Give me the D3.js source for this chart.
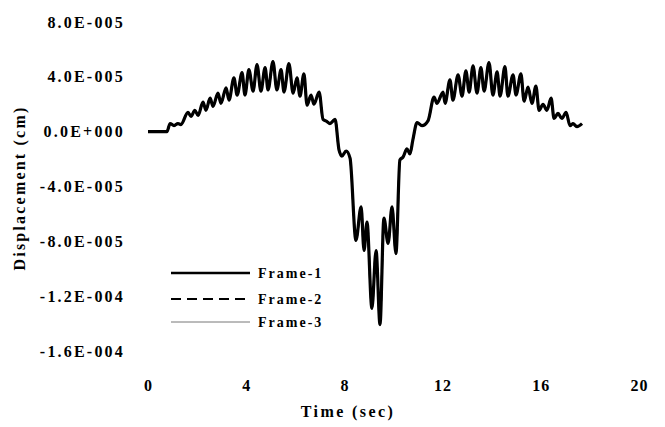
<!DOCTYPE html>
<html>
<head>
<meta charset="utf-8">
<script src="https://cdn.jsdelivr.net/npm/d3@7/dist/d3.min.js"></script>
<style>
  html, body { margin: 0; padding: 0; background: #fff; }
  svg { display: block; }
  text { font-family: "Liberation Serif", "DejaVu Serif", serif; font-weight: bold; fill: #000; }
</style>
</head>
<body>
<svg id="chart" width="665" height="427"></svg>
<script>
// ---- data ----
const timeSec = [0, 0.77, 0.90, 1.06, 1.22, 1.34, 1.63, 1.75, 1.91, 2.04, 2.24, 2.36, 2.53, 2.65, 2.85, 2.97,
  3.18, 3.30, 3.50, 3.63, 3.83, 3.95, 4.11, 4.28, 4.44, 4.60, 4.77, 4.89, 5.09, 5.25, 5.42, 5.54, 5.74, 5.91,
  6.07, 6.19, 6.35, 6.48, 6.64, 6.76, 6.97, 7.13, 7.29, 7.41, 7.62, 7.78, 7.90, 8.07, 8.23, 8.47, 8.68, 8.80,
  8.92, 9.12, 9.29, 9.45, 9.61, 9.78, 9.94, 10.10, 10.26, 10.39, 10.55, 10.67, 10.79, 10.96, 11.16, 11.41,
  11.65, 11.77, 12.02, 12.10, 12.30, 12.42, 12.63, 12.79, 12.95, 13.08, 13.24, 13.40, 13.56, 13.69, 13.89,
  14.05, 14.22, 14.34, 14.54, 14.66, 14.87, 14.99, 15.19, 15.32, 15.48, 15.64, 15.80, 15.93, 16.09, 16.25,
  16.42, 16.54, 16.70, 16.86, 17.03, 17.19, 17.31, 17.47, 17.68];

// displacement in units of 1e-5 cm
const frame1 = [0, 0, 0.59, 0.44, 0.59, 0.52, 1.41, 1.11, 1.56, 1.19, 2.15, 1.56, 2.44, 1.85, 2.81, 2.07,
  3.19, 2.30, 3.93, 2.67, 4.30, 2.67, 4.52, 2.96, 4.89, 2.96, 4.67, 3.04, 5.11, 3.04, 4.52, 2.89, 4.96, 2.81,
  3.93, 2.59, 4.22, 1.93, 2.67, 2.00, 2.89, 0.89, 0.74, 0.59, 0.89, -1.33, -1.78, -1.41, -1.93, -7.93, -5.48, -8.67,
  -6.59, -12.89, -8.67, -14.07, -6.30, -8.15, -5.48, -8.89, -2.07, -1.85, -1.26, -1.63, -0.59, 0.67, 0.44, 0.81,
  2.52, 2.07, 2.89, 2.07, 3.78, 2.30, 4.15, 2.59, 4.44, 2.89, 4.81, 2.81, 4.67, 2.96, 5.04,
  2.67, 4.37, 2.59, 4.74, 2.59, 4.15, 2.67, 4.22, 2.22, 3.26, 2.07, 3.33, 1.56, 2.00, 1.56,
  2.44, 0.96, 1.33, 0.96, 1.41, 0.44, 0.59, 0.37, 0.59];
// Frames 2 and 3 coincide with Frame 1 in the reference (hidden underneath)
const frame2 = frame1.slice();
const frame3 = frame1.slice();

const seriesNames = ["Frame-1", "Frame-2", "Frame-3"];
const xTicks = [0, 4, 8, 12, 16, 20];
const yTicks = [8e-5, 4e-5, 0, -4e-5, -8e-5, -1.2e-4, -1.6e-4];
const yTickLabels = ["8.0E-005", "4.0E-005", "0.0E+000", "-4.0E-005", "-8.0E-005", "-1.2E-004", "-1.6E-004"];
const xTitle = "Time (sec)";
const yTitle = "Displacement (cm)";

// ---- drawing ----
const svg = d3.select("#chart");
const x = d3.scaleLinear().domain([0, 20]).range([148, 639]);
const y = d3.scaleLinear().domain([-1.6e-4, 8e-5]).range([351, 22]);

const yAxis = d3.axisLeft(y).tickValues(yTicks).tickSize(0).tickPadding(0)
  .tickFormat((d, i) => yTickLabels[i]);
const gy = svg.append("g").attr("transform", "translate(125,0)").call(yAxis);
gy.select(".domain").remove();
gy.selectAll("text").attr("font-size", 16).attr("font-family", null).style("letter-spacing", "2.2px");

const xAxis = d3.axisBottom(x).tickValues(xTicks).tickSize(0).tickPadding(0).tickFormat(d3.format("d"));
const gx = svg.append("g").attr("transform", "translate(0,380)").call(xAxis);
gx.select(".domain").remove();
gx.selectAll("text").attr("font-size", 16).attr("font-family", null).style("letter-spacing", "1px");

svg.append("text").attr("x", 348).attr("y", 417).attr("text-anchor", "middle")
  .attr("font-size", 16).style("letter-spacing", "2.4px").text(xTitle);
svg.append("text").attr("transform", "translate(25,188) rotate(-90)").attr("text-anchor", "middle")
  .attr("font-size", 16).style("letter-spacing", "2.2px").text(yTitle);

const styles = [
  { width: 3.2, dash: null, color: "#000" },
  { width: 2, dash: "10,6", color: "#000" },
  { width: 1, dash: null, color: "#777" }
];
const legendWidths = [2.6, 2, 1];
const seriesData = [frame1, frame2, frame3];
const line = d3.line().x(d => x(d[0])).y(d => y(d[1] * 1e-5)).curve(d3.curveMonotoneX);

// draw frame-3 and frame-2 first, frame-1 on top (they coincide)
[2, 1, 0].forEach(k => {
  const pts = timeSec.map((t, i) => [t, seriesData[k][i]]);
  svg.append("path").datum(pts).attr("d", line)
    .attr("fill", "none").attr("stroke", styles[k].color)
    .attr("stroke-width", styles[k].width)
    .attr("stroke-dasharray", styles[k].dash)
    .attr("stroke-linejoin", "round");
});

// legend
const legendY = [273, 299, 322];
seriesNames.forEach((name, k) => {
  svg.append("line").attr("x1", 171).attr("x2", 250).attr("y1", legendY[k]).attr("y2", legendY[k])
    .attr("stroke", styles[k].color).attr("stroke-width", legendWidths[k])
    .attr("stroke-dasharray", styles[k].dash);
  svg.append("text").attr("x", 258).attr("y", legendY[k] + 5).attr("font-size", 14)
    .style("letter-spacing", "2px").text(name);
});
</script>
</body>
</html>
